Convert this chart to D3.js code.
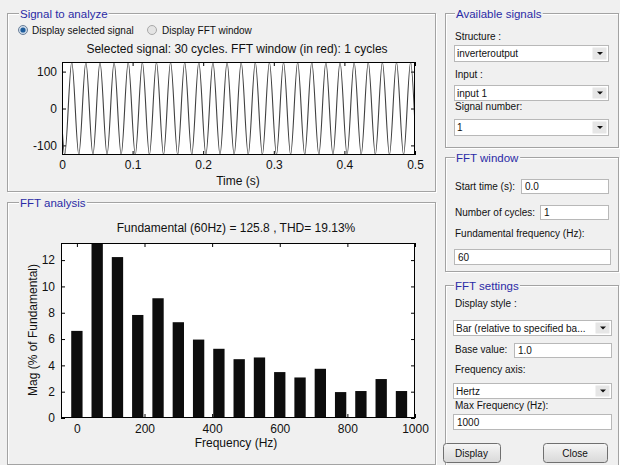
<!DOCTYPE html>
<html><head><meta charset="utf-8">
<script src="https://cdn.jsdelivr.net/npm/d3@7"></script>
<style>
body{margin:0;background:#f0f0f0;}
svg text{font-family:"Liberation Sans",Arial,sans-serif;}
</style>
</head><body>
<svg id="c" width="620" height="465"></svg>
<script>
// ---------------- data ----------------
const sigXTicks = [0, 0.1, 0.2, 0.3, 0.4, 0.5];
const sigYTicks = [-100, 0, 100];
const sigAmplitude = 125.8;
const sigPeakTimes = [0.0138,0.0338,0.0538,0.0738,0.0938,0.1138,0.1338,0.1538,0.1738,0.1938,0.2138,0.2338,0.2538,0.2738,0.2938,0.3138,0.3338,0.3538,0.3738,0.3938,0.4138,0.4338,0.4538,0.4738,0.4938];
const sigTroughTimes = [0.0038,0.0238,0.0438,0.0638,0.0838,0.1038,0.1238,0.1438,0.1638,0.1838,0.2038,0.2238,0.2438,0.2638,0.2838,0.3038,0.3238,0.3438,0.3638,0.3838,0.4038,0.4238,0.4438,0.4638,0.4838];
const sigEnds = [[0, -47], [0.5, -47]];

const fftFreqs = [0,60,120,180,240,300,360,420,480,540,600,660,720,780,840,900,960];
const fftMags  = [6.62,100,12.23,7.83,9.10,7.28,5.96,5.26,4.47,4.60,3.49,3.08,3.74,1.97,2.05,2.96,2.05];
const fftXTicks = [0,200,400,600,800,1000];
const fftYTicks = [0,2,4,6,8,10,12];

const sigTitle = "Selected signal: 30 cycles. FFT window (in red): 1 cycles";
const fftTitle = "Fundamental (60Hz) = 125.8 , THD= 19.13%";

// ---------------- drawing ----------------
const svg = d3.select("#c");
const BG = "#f0f0f0", BLUE = "#2b2ba6";
svg.append("rect").attr("width",620).attr("height",465).attr("fill",BG);
const fmt = v => String(v);

function panel(x,y,w,h,title,tx){
  const g = svg.append("g");
  g.append("rect").attr("x",x+1.5).attr("y",y+1.5).attr("width",w).attr("height",h)
    .attr("fill","none").attr("stroke","#ffffff");
  g.append("rect").attr("x",x+0.5).attr("y",y+0.5).attr("width",w).attr("height",h)
    .attr("fill","none").attr("stroke","#a3a3a3");
  const t = g.append("text").attr("x",tx).attr("y",y+4.5).attr("font-size",11.5)
    .attr("fill",BLUE).text(title);
  const bb = t.node().getBBox();
  g.insert("rect", "text").attr("x",bb.x-1).attr("y",y-1).attr("width",bb.width+2).attr("height",4)
    .attr("fill",BG);
  return g;
}
function label(x,y,txt,size){
  return svg.append("text").attr("x",x).attr("y",y).attr("font-size",size||10).attr("fill","#111").text(txt);
}
function popup(x,y,w,h,txt){
  svg.append("rect").attr("x",x+0.5).attr("y",y+0.5).attr("width",w).attr("height",h)
    .attr("fill","#fff").attr("stroke","#b8b8b8");
  svg.append("rect").attr("x",x+w-15.5).attr("y",y+2.5).attr("width",14).attr("height",h-4)
    .attr("fill","#e6e6e6");
  const cx = x+w-8, cy = y+h/2+0.5;
  svg.append("path").attr("d",`M${cx-3},${cy-1.5}L${cx+3},${cy-1.5}L${cx},${cy+1.5}Z`).attr("fill","#111");
  label(x+3,y+h/2+4,txt);
}
function edit(x,y,w,h,txt){
  svg.append("rect").attr("x",x+0.5).attr("y",y+0.5).attr("width",w).attr("height",h)
    .attr("fill","#fff").attr("stroke","#b8b8b8");
  label(x+4,y+h/2+4,txt);
}
function button(x,y,w,h,txt){
  const grad = svg.select("defs").empty()? svg.append("defs"):svg.select("defs");
  if (grad.select("#bg").empty()){
    const lg = grad.append("linearGradient").attr("id","bg").attr("x1",0).attr("y1",0).attr("x2",0).attr("y2",1);
    lg.append("stop").attr("offset","0").attr("stop-color","#f6f6f6");
    lg.append("stop").attr("offset","1").attr("stop-color","#d8d8d8");
  }
  svg.append("rect").attr("x",x+0.5).attr("y",y+0.5).attr("width",w).attr("height",h).attr("rx",3)
    .attr("fill","url(#bg)").attr("stroke","#707070");
  svg.append("text").attr("x",x+w/2).attr("y",y+h/2+4).attr("text-anchor","middle")
    .attr("font-size",10).attr("fill","#111").text(txt);
}

// Panels
panel(7,13,428,178,"Signal to analyze",20);
panel(7,202,428,262,"FFT analysis",20);
panel(445,13,173,134,"Available signals",456);
panel(445,157,173,114,"FFT window",456);
panel(445,285,173,182,"FFT settings",455);

// Radio buttons
svg.append("circle").attr("cx",23).attr("cy",30).attr("r",4.5).attr("fill","#cfdcea").attr("stroke","#6a7f99");
svg.append("circle").attr("cx",23).attr("cy",30).attr("r",2.6).attr("fill","#1f5d9c");
label(32,34,"Display selected signal");
svg.append("circle").attr("cx",152).attr("cy",30).attr("r",4.5).attr("fill","#e4e4e4").attr("stroke","#a8a8a8");
label(162,34,"Display FFT window");

// Right panel contents
label(455,40,"Structure :");
popup(454,45,154,16,"inverteroutput");
label(455,78,"Input :");
popup(454,85,154,15,"input 1");
label(455,110,"Signal number:");
popup(454,119,154,16,"1");

label(455,190,"Start time (s):");
edit(521,179,87,14,"0.0");
label(455,216,"Number of cycles:");
edit(540,205,68,14,"1");
label(455,237,"Fundamental frequency (Hz):");
edit(454,249,156,15,"60");

label(455,307,"Display style :");
popup(453,320,158,15,"Bar (relative to specified ba...");
label(455,353,"Base value:");
edit(514,343,97,14,"1.0");
label(455,373,"Frequency axis:");
popup(453,383,158,15,"Hertz");
label(455,409,"Max Frequency (Hz):");
edit(453,414,158,15,"1000");
button(443,443,57,19,"Display");
button(543,443,64,19,"Close");

// ---------- generic axes helper ----------
function frameAxes(x, y, L, R, T, B, xt, yt, ypad, xpad){
  const g = svg.append("g");
  g.append("rect").attr("x",L).attr("y",T).attr("width",R-L).attr("height",B-T).attr("fill","#fff");
  const tk = 4;
  const ax = [
    [d3.axisBottom(x).tickValues(xt).tickFormat(fmt), `translate(0,${B})`],
    [d3.axisTop(x).tickValues(xt).tickFormat(""), `translate(0,${T})`],
    [d3.axisLeft(y).tickValues(yt).tickFormat(fmt), `translate(${L},0)`],
    [d3.axisRight(y).tickValues(yt).tickFormat(""), `translate(${R},0)`]
  ];
  ax.forEach(([a,tr],i)=>{
    a.tickSizeInner(-tk).tickSizeOuter(0).tickPadding(i<2?xpad:ypad);
    const ag = g.append("g").attr("transform",tr).call(a);
    ag.select(".domain").remove();
    ag.selectAll("line").attr("stroke","#000");
    ag.selectAll("text").attr("font-size",12).attr("fill","#111")
      .style("font-family","'Liberation Sans',Arial,sans-serif");
  });
  return g;
}

// ---------- Signal plot ----------
{
  const L=62,R=415,T=62,B=155;
  const x = d3.scaleLinear().domain([0,0.5]).range([L,R]);
  const y = d3.scaleLinear().domain([-126,126]).range([B,T]);
  frameAxes(x,y,L,R,T,B,sigXTicks,sigYTicks,5,5);
  const pts = [sigEnds[0]]
    .concat(sigPeakTimes.map(t=>[t,sigAmplitude]))
    .concat(sigTroughTimes.map(t=>[t,-sigAmplitude]))
    .concat([sigEnds[1]])
    .sort((a,b)=>a[0]-b[0]);
  svg.append("clipPath").attr("id","clipS").append("rect").attr("x",L).attr("y",T).attr("width",R-L).attr("height",B-T);
  svg.append("path").attr("clip-path","url(#clipS)")
    .attr("d", d3.line().x(d=>x(d[0])).y(d=>y(d[1])).curve(d3.curveMonotoneX)(pts))
    .attr("fill","none").attr("stroke","#404040").attr("stroke-width",1.1);
  svg.append("rect").attr("x",L+0.5).attr("y",T+0.5).attr("width",R-L-1).attr("height",B-T-1)
    .attr("fill","none").attr("stroke","#000");
  svg.append("text").attr("x",237).attr("y",53).attr("text-anchor","middle").attr("font-size",12).attr("fill","#111").text(sigTitle);
  svg.append("text").attr("x",238).attr("y",185).attr("text-anchor","middle").attr("font-size",12).attr("fill","#111").text("Time (s)");
}

// ---------- FFT plot ----------
{
  const L=61,R=415,T=243,B=418;
  const x = d3.scaleLinear().domain([-47,1000]).range([L,R]);
  const y = d3.scaleLinear().domain([0,13.3]).range([B,T]);
  frameAxes(x,y,L,R,T,B,fftXTicks,fftYTicks,6,6);
  svg.append("clipPath").attr("id","clipF").append("rect").attr("x",L).attr("y",T).attr("width",R-L).attr("height",B-T);
  const half = 16.75;
  svg.append("g").attr("clip-path","url(#clipF)").selectAll("rect").data(fftFreqs).join("rect")
    .attr("x",(f)=>x(f-half)).attr("width",(f)=>x(f+half)-x(f-half))
    .attr("y",(f,i)=>y(fftMags[i])).attr("height",(f,i)=>y(0)-y(fftMags[i]))
    .attr("fill","#0d0d0d");
  svg.append("rect").attr("x",L+0.5).attr("y",T+0.5).attr("width",R-L-1).attr("height",B-T-1)
    .attr("fill","none").attr("stroke","#000");
  svg.append("text").attr("x",236).attr("y",232).attr("text-anchor","middle").attr("font-size",12).attr("fill","#111").text(fftTitle);
  svg.append("text").attr("x",236).attr("y",447).attr("text-anchor","middle").attr("font-size",12).attr("fill","#111").text("Frequency (Hz)");
  svg.append("text").attr("transform","translate(37,330) rotate(-90)").attr("text-anchor","middle").attr("font-size",12).attr("fill","#111").text("Mag (% of Fundamental)");
}
</script>
</body></html>
